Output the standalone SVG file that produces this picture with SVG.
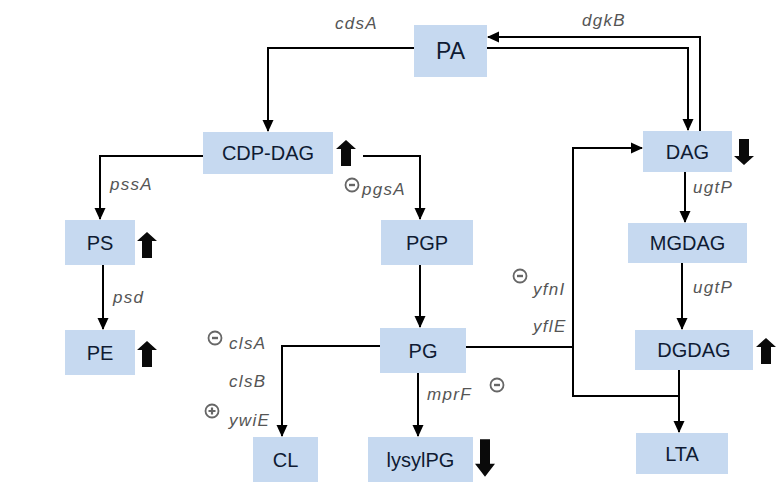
<svg xmlns="http://www.w3.org/2000/svg" xmlns:xlink="http://www.w3.org/1999/xlink" width="779" height="495" viewBox="0 0 779 495">
<style>
.box{fill:#c6d9f0;}
.nt{font-family:"Liberation Sans",Arial,sans-serif;font-size:20px;fill:#0f1b33;text-anchor:middle;}
.lb{font-family:"Liberation Sans",Arial,sans-serif;font-size:17px;font-style:italic;fill:#555;letter-spacing:1.3px;}
.cn{fill:none;stroke:#000;stroke-width:2;marker-end:url(#ah);}
.ln{fill:none;stroke:#000;stroke-width:2;}
.ic{fill:none;stroke:#666;stroke-width:1.8;}
.blk{fill:#0a0a0a;}
</style>
<defs>
<marker id="ah" viewBox="0 0 12 12" refX="11" refY="6" markerWidth="12" markerHeight="12" markerUnits="userSpaceOnUse" orient="auto">
<path d="M0,0.5 L12,6 L0,11.5 Z" fill="#000"/>
</marker>
<path id="up" class="blk" d="M0,-13 L10,-4 L5,-4 L5,13 L-5,13 L-5,-4 L-10,-4 Z"/>
<path id="dn" class="blk" d="M0,13 L10,4 L5,4 L5,-13 L-5,-13 L-5,4 L-10,4 Z"/>
<g id="minus"><circle class="ic" r="6.5"/><path d="M-3,0 H3" stroke="#666" stroke-width="2.4"/></g>
<g id="plus"><circle class="ic" r="6.5"/><path d="M-3.5,0 H3.5 M0,-3.5 V3.5" stroke="#666" stroke-width="2.2"/></g>
</defs>
<rect width="779" height="495" fill="#fff"/>

<g id="connectors">
<path class="cn" d="M414,48 H268 V131"/>
<path class="cn" d="M487,48 H688 V130"/>
<path class="cn" d="M700,131 V37 H488"/>
<path class="cn" d="M203,156 H100 V219"/>
<path class="cn" d="M103,265 V329"/>
<path class="cn" d="M363,156 H420 V219"/>
<path class="cn" d="M420,265 V327"/>
<path class="cn" d="M380,346 H282 V436"/>
<path class="cn" d="M418,373 V436"/>
<path class="cn" d="M466,347 H573 V148 H642"/>
<path class="ln" d="M573,347 V396 H679"/>
<path class="cn" d="M679,370 V432"/>
<path class="cn" d="M685,172 V222"/>
<path class="cn" d="M682,263 V329"/>
</g>

<g id="labels">
<text class="lb" x="335" y="29">cdsA</text>
<text class="lb" x="582" y="26">dgkB</text>
<text class="lb" x="110" y="190">pssA</text>
<text class="lb" x="113" y="303">psd</text>
<use xlink:href="#minus" x="352" y="185"/>
<text class="lb" x="362" y="195">pgsA</text>
<use xlink:href="#minus" x="215" y="338"/>
<text class="lb" x="229" y="349">clsA</text>
<text class="lb" x="229" y="387">clsB</text>
<use xlink:href="#plus" x="212" y="411"/>
<text class="lb" x="229" y="426">ywiE</text>
<text class="lb" x="427" y="400">mprF</text>
<use xlink:href="#minus" x="497" y="385"/>
<use xlink:href="#minus" x="520" y="276"/>
<text class="lb" x="533" y="295">yfnI</text>
<text class="lb" x="533" y="332">yflE</text>
<text class="lb" x="693" y="193">ugtP</text>
<text class="lb" x="693" y="293">ugtP</text>
</g>

<g id="PA"><rect class="box" x="414" y="25" width="73" height="52"/><text class="nt" x="450.5" y="59" style="font-size:23px">PA</text></g>
<g id="CDP-DAG"><rect class="box" x="203" y="132" width="130" height="42"/><text class="nt" x="268" y="160">CDP-DAG</text><use xlink:href="#up" x="346" y="153"/></g>
<g id="PS"><rect class="box" x="65" y="220" width="70" height="45"/><text class="nt" x="100" y="250">PS</text><use xlink:href="#up" x="147" y="245"/></g>
<g id="PE"><rect class="box" x="65" y="330" width="70" height="45"/><text class="nt" x="100" y="360">PE</text><use xlink:href="#up" x="147" y="354"/></g>
<g id="PGP"><rect class="box" x="381" y="220" width="92" height="45"/><text class="nt" x="427" y="250">PGP</text></g>
<g id="PG"><rect class="box" x="380" y="328" width="86" height="45"/><text class="nt" x="423" y="358">PG</text></g>
<g id="CL"><rect class="box" x="253" y="437" width="65" height="45"/><text class="nt" x="285.5" y="467">CL</text></g>
<g id="lysylPG"><rect class="box" x="368" y="437" width="105" height="45"/><text class="nt" x="420.5" y="467">lysylPG</text><use xlink:href="#dn" transform="translate(485,458) scale(1,1.45)"/></g>
<g id="DAG"><rect class="box" x="643" y="131" width="89" height="41"/><text class="nt" x="687.5" y="159">DAG</text><use xlink:href="#dn" x="744" y="152"/></g>
<g id="MGDAG"><rect class="box" x="628" y="223" width="119" height="40"/><text class="nt" x="687.5" y="250">MGDAG</text></g>
<g id="DGDAG"><rect class="box" x="635" y="330" width="118" height="40"/><text class="nt" x="694" y="357">DGDAG</text><use xlink:href="#up" x="766" y="351"/></g>
<g id="LTA"><rect class="box" x="636" y="433" width="92" height="41"/><text class="nt" x="682" y="461">LTA</text></g>
</svg>
